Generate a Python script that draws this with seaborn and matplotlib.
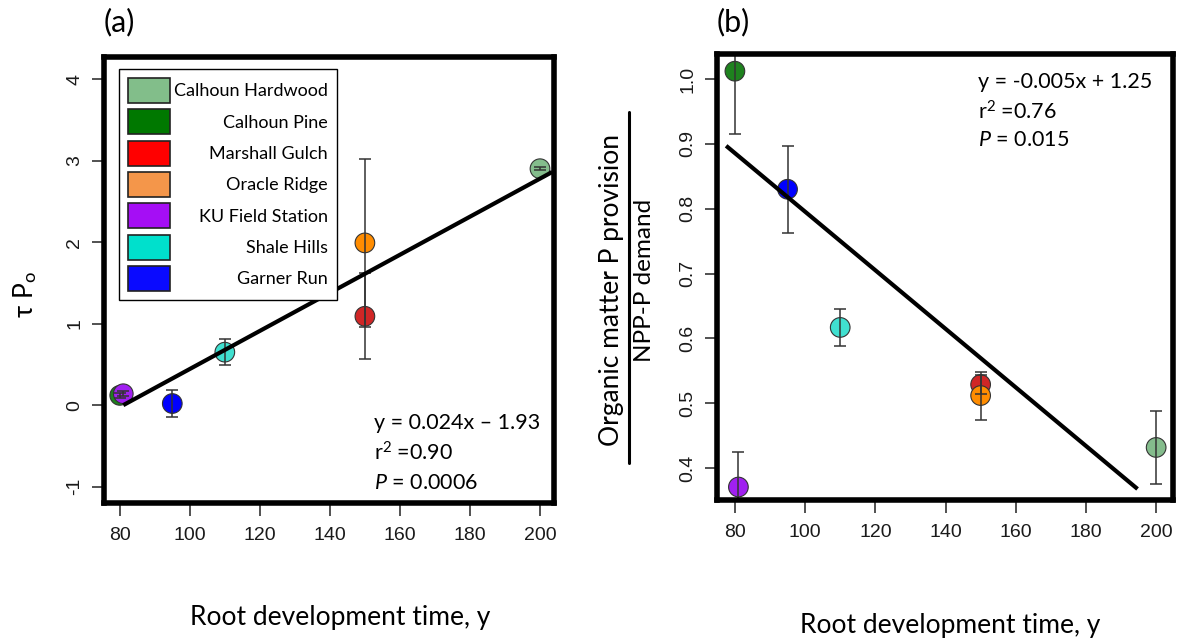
import pandas as pd
import matplotlib.pyplot as plt
import seaborn as sns
from matplotlib.patches import Patch
from matplotlib.lines import Line2D

sns.set_theme(style="white")
plt.rcParams['font.family'] = ['Lato', 'DejaVu Sans']
plt.rcParams['mathtext.fontset'] = 'custom'
plt.rcParams['mathtext.rm'] = 'Lato'
plt.rcParams['mathtext.it'] = 'Lato:italic'
plt.rcParams['axes.unicode_minus'] = False
plt.rcParams['text.color'] = 'black'

# sites in legend order
sites = ["Calhoun Hardwood", "Calhoun Pine", "Marshall Gulch", "Oracle Ridge",
         "KU Field Station", "Shale Hills", "Garner Run"]
point_colors = ["#84BC8C", "#1E821E", "#D02626", "#FF8C00", "#A020F0", "#40E0D0", "#0000FF"]
legend_colors = ["#82BE8A", "#007800", "#FF0000", "#F4964A", "#A50EF5", "#00E0CC", "#0A0AFF"]

# panel (a): tau * Po
x_a = [200, 80, 150, 150, 81, 110, 95]
y_a = [2.90, 0.12, 1.09, 1.99, 0.14, 0.65, 0.02]
err_a = [0.02, 0.03, 0.53, 1.03, 0.03, 0.16, 0.165]
line_a_x = [81, 203.5]
line_a_y = [0.0, 2.86]

# panel (b): OM P provision / NPP-P demand
x_b = [200, 80, 150, 150, 81, 110, 95]
y_b = [0.432, 1.012, 0.529, 0.512, 0.371, 0.617, 0.830]
err_b = [0.056, 0.097, 0.015, 0.037, 0.054, 0.029, 0.067]
line_b_x = [77.5, 194.7]
line_b_y = [0.897, 0.368]

xticks = [80, 100, 120, 140, 160, 180, 200]
yticks_a = [-1, 0, 1, 2, 3, 4]
yticks_b = [0.4, 0.5, 0.6, 0.7, 0.8, 0.9, 1.0]
yticklabels_b = ["0.4", "0.5", "0.6", "0.7", "0.8", "0.9", "1.0"]

df_a = pd.DataFrame({"site": sites, "x": x_a, "y": y_a, "err": err_a})
df_b = pd.DataFrame({"site": sites, "x": x_b, "y": y_b, "err": err_b})
pal = dict(zip(sites, point_colors))

W, H = 1179, 640
fig = plt.figure(figsize=(W / 100, H / 100), dpi=100)


def px_axes(l, t, r, b):
    return fig.add_axes([l / W, 1 - b / H, (r - l) / W, (b - t) / H])


def px_text(x, y, s, **kw):
    # x, y in pixels from the top-left corner
    return fig.text(x / W, 1 - y / H, s, **kw)


def style_axes(ax):
    for s in ax.spines.values():
        s.set_linewidth(4)
        s.set_color("black")
        s.set_zorder(6)
    ax.tick_params(axis="both", direction="out", length=9, width=1.2, color="#333",
                   labelsize=14, labelcolor="#1a1a1a", bottom=True, left=True)
    ax.tick_params(axis="x", pad=8)
    ax.tick_params(axis="y", pad=6, labelrotation=90)
    for lab in ax.get_xticklabels() + ax.get_yticklabels():
        lab.set_fontfamily("Liberation Sans")
    for lab in ax.get_yticklabels():
        lab.set_va("center")
    ax.set_xlabel("")
    ax.set_ylabel("")


def draw_panel(ax, df, lx, ly):
    sns.scatterplot(data=df, x="x", y="y", hue="site", palette=pal, hue_order=sites,
                    s=200, edgecolor="#333", linewidth=0.8, legend=False, ax=ax, zorder=3)
    ax.errorbar(df["x"], df["y"], yerr=df["err"], fmt="none", ecolor="#333",
                elinewidth=1.1, capsize=4.5, capthick=1.1, zorder=4)
    ax.plot(lx, ly, color="black", lw=3, solid_capstyle="butt", zorder=5)


# ---- panel (a)
ax1 = px_axes(104, 57, 554, 503)
draw_panel(ax1, df_a, line_a_x, line_a_y)
ax1.set_xlim(75.5, 204)
ax1.set_ylim(-1.2, 4.27)
ax1.set_xticks(xticks)
ax1.set_yticks(yticks_a)
style_axes(ax1)

handles = [Patch(facecolor=c, edgecolor="#222", linewidth=1.2) for c in legend_colors]
leg = ax1.legend(handles, sites, loc="upper left",
                 bbox_to_anchor=(119 / W, 1 - 69 / H), bbox_transform=fig.transFigure,
                 borderaxespad=0, fontsize=13, handlelength=2.33, handleheight=1.74,
                 labelspacing=0.36, handletextpad=0.2, borderpad=0.5,
                 fancybox=False, framealpha=1)
leg.get_frame().set_edgecolor("black")
leg.get_frame().set_linewidth(1.0)
leg.set_zorder(7)

px_text(374, 423, "y = 0.024x \u2013 1.93", fontsize=15.5, va="center")
px_text(374, 453, "r$^2$ =0.90", fontsize=15.5, va="center")
px_text(374, 483, "$P$ = 0.0006", fontsize=15.5, va="center")

# ---- panel (b)
ax2 = px_axes(717, 54, 1173, 500)
draw_panel(ax2, df_b, line_b_x, line_b_y)
ax2.set_xlim(74.9, 204.8)
ax2.set_ylim(0.351, 1.0385)
ax2.set_xticks(xticks)
ax2.set_yticks(yticks_b)
ax2.set_yticklabels(yticklabels_b)
style_axes(ax2)

px_text(978, 82, "y = -0.005x + 1.25", fontsize=15.5, va="center")
px_text(978, 112, "r$^2$ =0.76", fontsize=15.5, va="center")
px_text(978, 140, "$P$ = 0.015", fontsize=15.5, va="center")

# panel letters and axis labels
px_text(119, 22, "(a)", fontsize=22, ha="center", va="center")
px_text(733, 22, "(b)", fontsize=22, ha="center", va="center")
px_text(340, 618, "Root development time, y", fontsize=19, ha="center", va="center")
px_text(950, 625, "Root development time, y", fontsize=19, ha="center", va="center")
px_text(25, 295, "\u03c4 P$_\\mathrm{o}$", fontsize=19, rotation=90,
        ha="center", va="center")
px_text(611, 290, "Organic matter P provision", fontsize=19, rotation=90,
        ha="center", va="center")
px_text(645, 280, "NPP-P demand", fontsize=17.5, rotation=90, ha="center", va="center")
fig.add_artist(Line2D([629 / W, 629 / W], [1 - 112 / H, 1 - 463 / H],
                      color="black", lw=2.2))

# right-align the legend labels
fig.canvas.draw()
widths = [t.get_window_extent().width for t in leg.get_texts()]
for t, w in zip(leg.get_texts(), widths):
    t.set_position((max(widths) - w, 0))

fig.savefig("out.png", dpi=100)
